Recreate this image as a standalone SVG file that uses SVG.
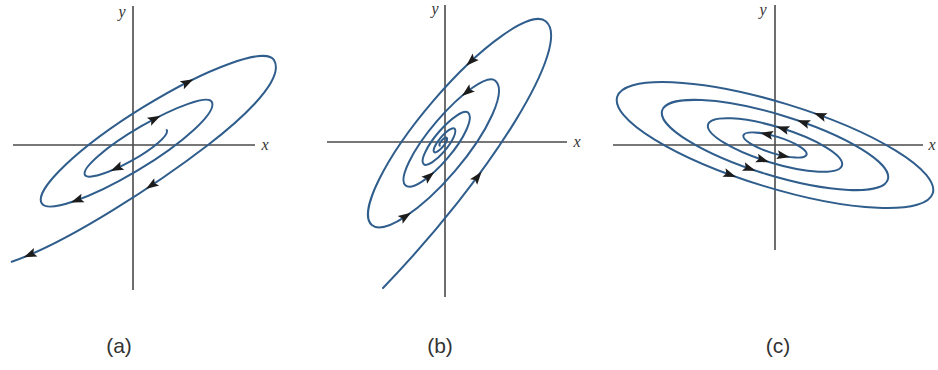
<svg xmlns="http://www.w3.org/2000/svg" xmlns:xlink="http://www.w3.org/1999/xlink" width="938" height="370" viewBox="0 0 938 370">
  <style>
    .axis { stroke: #4a4a4a; stroke-width: 1.6; fill: none; }
    .traj { stroke: #2f5d8c; stroke-width: 2; fill: none; stroke-linecap: round; }
    .lbl { font-family: "Liberation Serif", "DejaVu Serif", serif; font-style: italic; font-size: 16px; fill: #333; text-anchor: middle; }
    .cap { font-family: "Liberation Sans", "DejaVu Sans", sans-serif; font-size: 21px; fill: #333; text-anchor: middle; }
    .ah { fill: #1c1c1c; }
  </style>
  <defs>
    <path id="ah" class="ah" d="M6.5,0 L-6.5,-4.5 L-4,0 L-6.5,4.5 Z"/>
  </defs>
  <rect width="938" height="370" fill="#ffffff"/>

  <g id="panel-a">
    <line class="axis" x1="133" y1="6" x2="133" y2="290"/>
    <line class="axis" x1="13" y1="145" x2="255" y2="145"/>
    <text class="lbl" x="265" y="150">x</text>
    <text class="lbl" x="122" y="17">y</text>
    <path class="traj" d="M166.7,130 A46.4 10 -28.8 0 1 85,175 A73 14 -30.05 0 1 211.7,101.7 A98.8 21 -30.9 0 1 41.7,203.3 A136.2 28.5 -31.7 0 1 274,60 C286.7,81.6 231.8,126.7 208,145 C160.4,181.6 68.6,242.6 11.7,261.7"/>
    <use xlink:href="#ah" transform="translate(116.5,168.3) rotate(155.6)"/>
    <use xlink:href="#ah" transform="translate(154.8,118.8) rotate(-27.7)"/>
    <use xlink:href="#ah" transform="translate(76.9,200.3) rotate(160.2)"/>
    <use xlink:href="#ah" transform="translate(187.6,82.3) rotate(-26.9)"/>
    <use xlink:href="#ah" transform="translate(151.3,185.5) rotate(146.2)"/>
    <use xlink:href="#ah" transform="translate(29.7,254.8) rotate(157)"/>
    <text class="cap" x="119" y="353">(a)</text>
  </g>

  <g id="panel-b">
    <line class="axis" x1="445" y1="5" x2="445" y2="297"/>
    <line class="axis" x1="327" y1="142" x2="567" y2="142"/>
    <text class="lbl" x="577" y="147">x</text>
    <text class="lbl" x="435" y="14">y</text>
    <path class="traj" d="M383,288 C492,175 572.6,44.2 546,21.4 A133.8 34 -49.45 0 0 371.8,225 A94.7 28 -49.45 0 0 495.3,80.7 A68.8 18 -49.45 0 0 405.6,185.6 A47.8 14 -49.45 0 0 468,112.6 A33.8 9.5 -49.45 0 0 423.8,164.3 A23.3 7 -49.45 0 0 454.4,128.6 A15.3 4.5 -49.45 0 0 434.2,152.1 A9.3 3 -49.45 0 0 446.6,137.7 A5.3 2 -49.45 0 0 439.7,145.7"/>
    <use xlink:href="#ah" transform="translate(477.6,176.8) rotate(-52)"/>
    <use xlink:href="#ah" transform="translate(471,61.2) rotate(137)"/>
    <use xlink:href="#ah" transform="translate(405.6,216.3) rotate(-33.4)"/>
    <use xlink:href="#ah" transform="translate(467,91.9) rotate(141.9)"/>
    <use xlink:href="#ah" transform="translate(429.3,176.1) rotate(-39.2)"/>
    <text class="cap" x="440" y="353">(b)</text>
  </g>

  <g id="panel-c">
    <line class="axis" x1="775" y1="5" x2="775" y2="250"/>
    <line class="axis" x1="613" y1="145" x2="923" y2="145"/>
    <text class="lbl" x="932" y="150">x</text>
    <text class="lbl" x="763" y="15">y</text>
    <g transform="rotate(17 775 145)">
      <ellipse class="traj" cx="775" cy="145" rx="165" ry="42.5"/>
      <ellipse class="traj" cx="775" cy="145" rx="118" ry="30.4"/>
      <ellipse class="traj" cx="775" cy="145" rx="70" ry="18"/>
      <ellipse class="traj" cx="775" cy="145" rx="33" ry="8.5"/>
    </g>
    <use xlink:href="#ah" transform="translate(819.9,115.2) rotate(200)"/>
    <use xlink:href="#ah" transform="translate(730.1,174.8) rotate(20)"/>
    <use xlink:href="#ah" transform="translate(803.3,122.4) rotate(199.7)"/>
    <use xlink:href="#ah" transform="translate(749.5,168.7) rotate(19.2)"/>
    <use xlink:href="#ah" transform="translate(782.6,128.5) rotate(197.7)"/>
    <use xlink:href="#ah" transform="translate(762.8,160) rotate(18.6)"/>
    <use xlink:href="#ah" transform="translate(766.5,134.1) rotate(191.7)"/>
    <use xlink:href="#ah" transform="translate(783.5,155.9) rotate(11.7)"/>
    <text class="cap" x="778" y="353">(c)</text>
  </g>
</svg>
